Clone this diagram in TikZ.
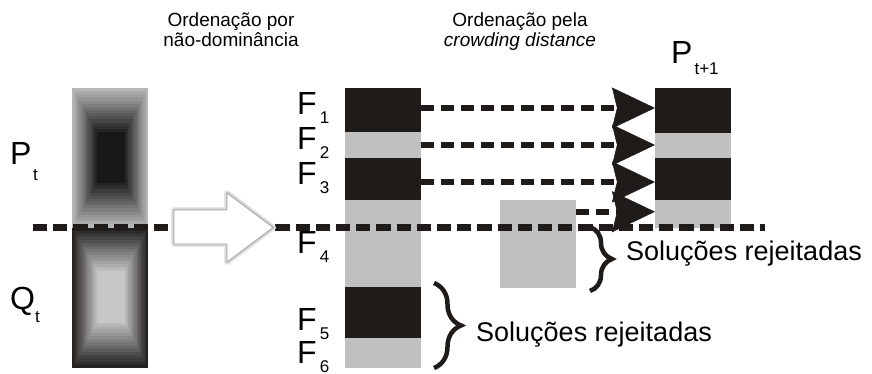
\documentclass[tikz,border=0pt]{standalone}
\usepackage{fontspec}
\setmainfont{Liberation Sans}
\usetikzlibrary{arrows.meta,decorations.pathreplacing}

\definecolor{bandDark}{RGB}{30,27,25}
\definecolor{bandLight}{RGB}{192,192,192}
\definecolor{gradEdgeP}{RGB}{182,182,182}
\definecolor{gradCoreP}{RGB}{26,24,22}
\definecolor{gradEdgeQ}{RGB}{36,34,32}
\definecolor{gradCoreQ}{RGB}{198,198,198}

% letter with a lowered index: #1 letter, #2 index, #3 drop, #4 gap
\newcommand\lblsub[4]{{\fontsize{32}{32}\selectfont #1}\hspace{#4}\raisebox{-#3}{\fontsize{17}{17}\selectfont #2}}

\begin{document}
\begin{tikzpicture}[x=1pt,y=-1pt,
  band/.style={rectangle, draw=none, inner sep=0pt, outer sep=0pt, anchor=north west, minimum width=76pt},
  front/.style={band, fill=bandDark},
  rest/.style={band, fill=bandLight},
  tag/.style={anchor=base west, inner sep=0pt},
  head/.style={anchor=base, inner sep=0pt, font=\fontsize{19}{20}\selectfont},
  cutline/.style={line width=7pt, dash pattern=on 14.2pt off 6pt, draw=bandDark},
  carry/.style={line width=6pt, dash pattern=on 13pt off 7pt, draw=bandDark,
    -{Stealth[length=43pt,width=41pt,inset=5pt,line width=0.5pt]}},
  reject/.style={line width=4.5pt, draw=bandDark, line cap=butt, decorate, decoration={brace, amplitude=#1}},
  note/.style={anchor=base west, inner sep=0pt, font=\fontsize{27}{27}\selectfont}
]
\useasboundingbox (0,0) rectangle (872,374);

% combined population: P_t fades in towards a dark core, Q_t towards a light one
\foreach \i in {0,...,14} {
  \pgfmathsetmacro\s{\i/14}
  \pgfmathtruncatemacro\p{100*\i/14}
  \fill[gradCoreP!\p!gradEdgeP] ({72+25*\s},{88+44*\s}) rectangle ({148-23*\s},{227.5-44.5*\s});
  \fill[gradCoreQ!\p!gradEdgeQ] ({72+25*\s},{227.5+42.5*\s}) rectangle ({148-23*\s},{368-45*\s});
}

% fronts after non-dominated sorting
\node[front, minimum height=44pt] (f1) at (345,88) {};
\node[rest,  minimum height=26pt] (f2) at (345,132) {};
\node[front, minimum height=42pt] (f3) at (345,158) {};
\node[rest,  minimum height=87pt] (f4) at (345,200) {};
\node[front, minimum height=51pt] (f5) at (345,287) {};
\node[rest,  minimum height=30pt] (f6) at (345,338) {};

% F4 sorted by crowding distance
\node[rest, minimum height=88pt] (cand) at (500,200) {};

% next population
\node[front, minimum height=45pt]   (n1) at (655,88) {};
\node[rest,  minimum height=25pt]   (n2) at (655,133) {};
\node[front, minimum height=42pt]   (n3) at (655,158) {};
\node[rest,  minimum height=27.5pt] (n4) at (655,200) {};

% fronts carried over
\draw[carry] ([yshift=2pt]f1.east) -- ([yshift=2pt]f1.east -| n1.west);
\draw[carry] (f2.east) -- (f2.east -| n2.west);
\draw[carry] ([yshift=-3pt]f3.east) -- ([yshift=-3pt]f3.east -| n3.west);
\draw[carry] ([yshift=2pt]n4.west -| cand.east) -- ([yshift=2pt]n4.west);

% population size cut
\coordinate (cutL) at (33,227.5);
\coordinate (cutR) at (765,227.5);
\draw[cutline] (cutL) -- (cutR);

% hollow arrow between the two stages, with a soft halo
\draw[gray!20, line width=6pt, line join=round]
  (174,210) -- (227,210) -- (227,193) -- (273,227.5) -- (227,262) -- (227,244) -- (174,244) -- cycle;
\draw[gray!40, line width=3pt, line join=round]
  (174,210) -- (227,210) -- (227,193) -- (273,227.5) -- (227,262) -- (227,244) -- (174,244) -- cycle;
\filldraw[fill=white, draw=gray!70, line width=0.8pt, line join=miter]
  (174,210) -- (227,210) -- (227,193) -- (273,227.5) -- (227,262) -- (227,244) -- (174,244) -- cycle;

% labels
\node[tag] (lPt) at (10,165) {\lblsub{P}{t}{16pt}{1.5pt}};
\node[tag] (lQt) at (10,309) {\lblsub{Q}{t}{13pt}{0pt}};
\node[tag] (lPn) at (671,64) {\lblsub{P}{t+1}{11pt}{2pt}};

\node[tag] (lF1) at (297,115) {\lblsub{F}{1}{9pt}{3pt}};
\node[tag] (lF2) at (297,150) {\lblsub{F}{2}{9pt}{3pt}};
\node[tag] (lF3) at (297,185) {\lblsub{F}{3}{9pt}{3pt}};
\node[tag] (lF4) at (297,253) {\lblsub{F}{4}{9pt}{3pt}};
\node[tag] (lF5) at (297,330) {\lblsub{F}{5}{9pt}{3pt}};
\node[tag] (lF6) at (297,363) {\lblsub{F}{6}{9pt}{3pt}};

\node[head] (h1a) at (231,27) {Ordenação por};
\node[head] (h1b) at (231,47) {não-dominância};
\node[head] (h2a) at (520,27) {Ordenação pela};
\node[head] (h2b) at (520,47) {\itshape crowding distance};

% rejected solutions
\coordinate (b1t) at (590,227);
\coordinate (b1b) at (590,291);
\draw[reject=22pt] (b1t) -- (b1b);
\node[note] (r1) at (626,260) {Soluções rejeitadas};

\coordinate (b2t) at (434,283);
\coordinate (b2b) at (434,368);
\draw[reject=27pt] (b2t) -- (b2b);
\node[note] (r2) at (476,341) {Soluções rejeitadas};
\end{tikzpicture}
\end{document}
